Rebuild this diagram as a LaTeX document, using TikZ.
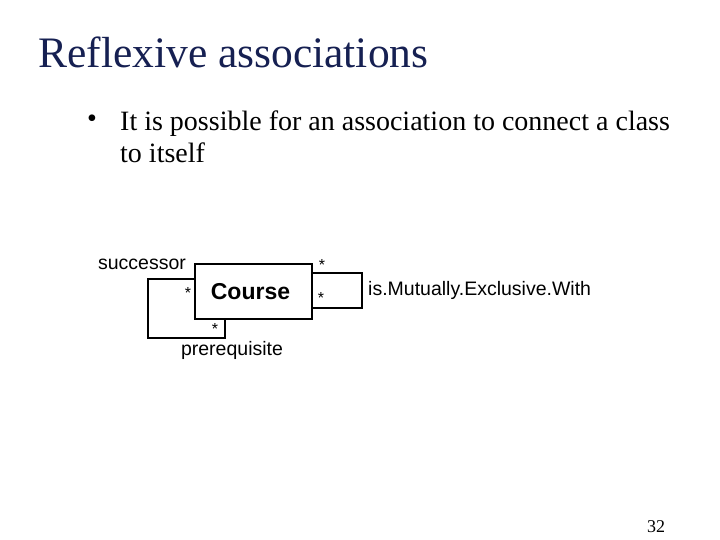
\documentclass[tikz,border=0pt]{standalone}
\usepackage{fontspec}
\setmainfont{Liberation Serif}
\setsansfont{Liberation Sans}
\usetikzlibrary{calc}
\definecolor{navy}{RGB}{22,32,82}
\tikzset{
  titletext/.style={font=\fontsize{43.5}{48}\selectfont, text=navy, inner sep=0pt, anchor=base west},
  bodytext/.style={font=\fontsize{28}{32}\selectfont, inner sep=0pt, anchor=base west},
  umllabel/.style={font=\sffamily\fontsize{19.5}{22}\selectfont, inner sep=0pt},
  mult/.style={font=\sffamily\fontsize{16}{18}\selectfont, inner sep=0pt},
  classbox/.style={draw, line width=1.6pt, minimum width=117pt, minimum height=55pt, inner sep=0pt, font=\sffamily\bfseries\fontsize{23}{26}\selectfont},
  assoc/.style={draw, line width=1.8pt}
}
\begin{document}
\begin{tikzpicture}[x=1pt,y=-1pt]
\useasboundingbox (0,0) rectangle (720,540);
\node[titletext] (title) at (38,68) {Reflexive associations};
\node[font=\fontsize{28}{32}\selectfont, inner sep=0pt] (bullet) at (92,121) {\textbullet};
\node[bodytext] (line1) at (120,131) {It is possible for an association to connect a class};
\node[bodytext] (line2) at (120,163) {to itself};

\node[classbox] (course) at (253.5,291.5) {\hspace*{-6pt}Course};

\coordinate (ltop) at (148,279);
\coordinate (lbot) at (225,338);
\draw[assoc] (ltop -| course.west) -- (ltop) |- (lbot) -- (lbot |- course.south);

\coordinate (rtop) at (362,273);
\coordinate (rbot) at (362,308);
\draw[assoc] (rtop -| course.east) -- (rtop) -- (rbot) -- (rbot -| course.east);

\node[umllabel] (succ) at (142,264) {successor};
\node[mult] (m1) at (188,293) {*};
\node[mult] (m2) at (215,329) {*};
\node[umllabel] (prereq) at (232,350) {prerequisite};
\node[mult] (m3) at (322,265) {*};
\node[mult] (m4) at (321,298) {*};
\node[umllabel, anchor=west] (mutex) at (368,290) {is.Mutually.Exclusive.With};

\node[font=\fontsize{18}{20}\selectfont, inner sep=0pt] (page) at (656,527) {32};
\end{tikzpicture}
\end{document}
